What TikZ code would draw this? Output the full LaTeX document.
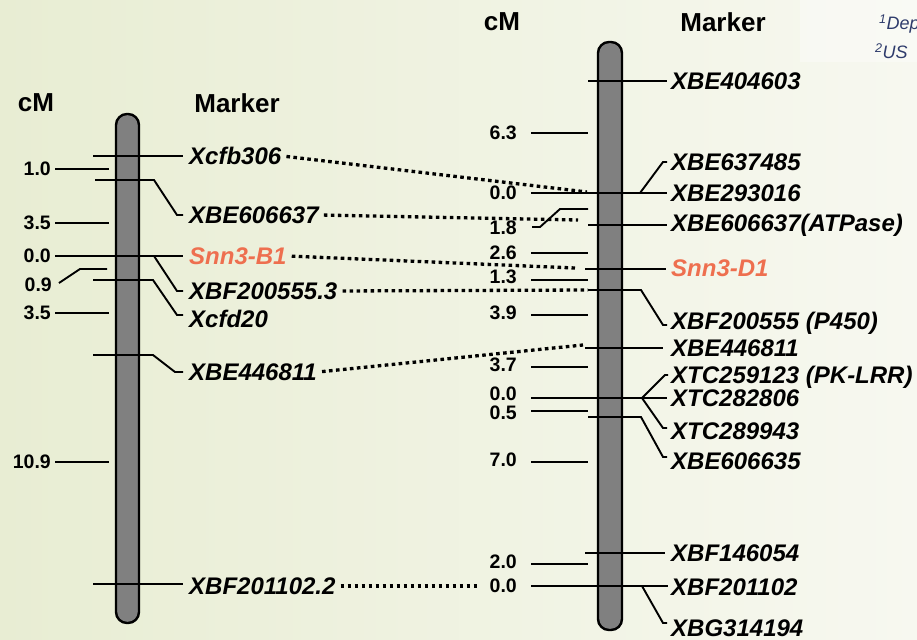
\documentclass[tikz,border=0pt]{standalone}
\usepackage{fontspec}
\setmainfont{Liberation Sans}
\usetikzlibrary{calc}
\definecolor{CHROM}{HTML}{808080}
\definecolor{SALMON}{HTML}{EE6F4F}
\definecolor{BGL}{HTML}{E8EDD3}
\definecolor{BGR}{HTML}{F7F8F0}
\definecolor{NOTE}{HTML}{2E3B6B}

\begin{document}
\begin{tikzpicture}[x=1pt,y=-1pt]
\tikzset{chrom/.style={draw=black,line width=2.4pt,fill=CHROM,rounded corners=11pt},
 tk/.style={line width=1.9pt},
 mk/.style={font=\fontsize{24}{26}\selectfont\bfseries\itshape,anchor=west,inner sep=1pt},
 cmv/.style={font=\fontsize{19.5}{21}\selectfont\bfseries,anchor=east,inner sep=1pt},
 hd/.style={font=\fontsize{26}{28}\selectfont\bfseries},
 link/.style={line width=3.3pt,dash pattern=on 3.6pt off 3.4pt,shorten <=4pt}}
% background
\shade[left color=BGL,right color=BGR] (0,0) rectangle (917,639);
\fill[white,opacity=0.35] (800,0) rectangle (917,62);
\useasboundingbox (0,0) rectangle (917,639);
\node[font=\fontsize{18}{20}\selectfont\itshape,text=NOTE,anchor=west,inner sep=0pt] (noteA) at (879,24) {\textsuperscript{1}Dep};
\node[font=\fontsize{18}{20}\selectfont\itshape,text=NOTE,anchor=west,inner sep=0pt] (noteB) at (875,51) {\textsuperscript{2}US};

% headers
\node[hd] (cmL) at (36,103) {cM};
\node[hd] (mkL) at (237,103) {Marker};
\node[hd] (cmR) at (502,22) {cM};
\node[hd] (mkR) at (723,22) {Marker};

% ---------- left map (B genome) ----------
\draw[chrom] (116,114) rectangle (139,623);
\foreach \y/\t/\ly in {169/1.0/169,223/3.5/223,256/0.0/256,313/3.5/313,462/10.9/462}{
 \draw[tk] (55,\y) -- (109,\y);
 \node[cmv] at (52,\ly) {\t};}
\draw[tk] (59,283) -- (80,269) -- (107,269);
\node[cmv] at (53,285) {0.9};
\draw[tk] (93,156) -- (183,156);
\draw[tk] (95,180) -- (154,180) -- (177,215) -- (183,215);
\draw[tk] (93,256) -- (183,256);
\draw[tk] (154,256) -- (177,291) -- (183,291);
\draw[tk] (93,280) -- (153,280) -- (177,315) -- (183,315);
\draw[tk] (93,355) -- (153,355) -- (175,372) -- (183,372);
\draw[tk] (93,584) -- (183,584);
\node[mk] (cfb306) at (188,156) {Xcfb306};
\node[mk] (be606637) at (188,215) {XBE606637};
\node[mk,text=SALMON] (snnB) at (188,256) {Snn3-B1};
\node[mk] (bf2005553) at (188,291) {XBF200555.3};
\node[mk] (cfd20) at (188,319) {Xcfd20};
\node[mk] (be446811L) at (188,372) {XBE446811};
\node[mk] (bf2011022) at (188,586) {XBF201102.2};

% ---------- right map (D genome) ----------
\draw[chrom] (598,42) rectangle (622,630);
\foreach \y/\t/\ly in {133/6.3/133,193/0.0/193,253/2.6/253,280/1.3/277,315/3.9/313,
 367/3.7/365,398/0.0/394,411/0.5/413,462/7.0/460,564/2.0/562,586/0.0/586}{
 \draw[tk] (531,\y) -- (588,\y);
 \node[cmv] at (518,\ly) {\t};}
\draw[tk] (532,227) -- (540,227) -- (560,209) -- (588,209);
\node[cmv] at (518,228) {1.8};
\draw[tk] (588,81) -- (667,81);
\draw[tk] (588,193) -- (667,193);
\draw[tk] (640,193) -- (663,162) -- (667,162);
\draw[tk] (588,225) -- (667,225);
\draw[tk] (585,269) -- (666,269);
\draw[tk] (588,290) -- (641,290) -- (663,325) -- (667,325);
\draw[tk] (585,348) -- (663,348);
\draw[tk] (588,398) -- (667,398);
\draw[tk] (642,398) -- (665,375) -- (668,375);
\draw[tk] (642,398) -- (663,428) -- (667,428);
\draw[tk] (588,417) -- (641,417) -- (663,457) -- (667,457);
\draw[tk] (585,553) -- (665,553);
\draw[tk] (588,586) -- (668,586);
\draw[tk] (642,586) -- (663,623) -- (667,623);
\node[mk] (be404603) at (670,81) {XBE404603};
\node[mk] (be637485) at (670,162) {XBE637485};
\node[mk] (be293016) at (670,193) {XBE293016};
\node[mk] (atpase) at (670,225) {XBE606637(ATPase)};
\node[mk,text=SALMON] (snnD) at (670,268) {Snn3-D1};
\node[mk] (p450) at (670,323) {XBF200555 (P450)};
\node[mk] (be446811R) at (670,348) {XBE446811};
\node[mk] (pklrr) at (670,377) {XTC259123 (PK-LRR)};
\node[mk] (tc282806) at (670,398) {XTC282806};
\node[mk] (tc289943) at (670,431) {XTC289943};
\node[mk] (be606635) at (670,461) {XBE606635};
\node[mk] (bf146054) at (670,553) {XBF146054};
\node[mk] (bf201102) at (670,587) {XBF201102};
\node[mk] (bg314194) at (670,628) {XBG314194};

% dotted links between the maps
\coordinate (eA) at (587,192);
\coordinate (eB) at (578,220);
\coordinate (eC) at (575,268);
\coordinate (eD) at (588,290);
\coordinate (eE) at (583,345);
\coordinate (eF) at (478,586);
\draw[link] (cfb306.east) -- (eA);
\draw[link] (be606637.east) -- (eB);
\draw[link] (snnB.east) -- (eC);
\draw[link] (bf2005553.east) -- (eD);
\draw[link] (be446811L.east) -- (eE);
\draw[link] (bf2011022.east) -- (eF);
\end{tikzpicture}
\end{document}
